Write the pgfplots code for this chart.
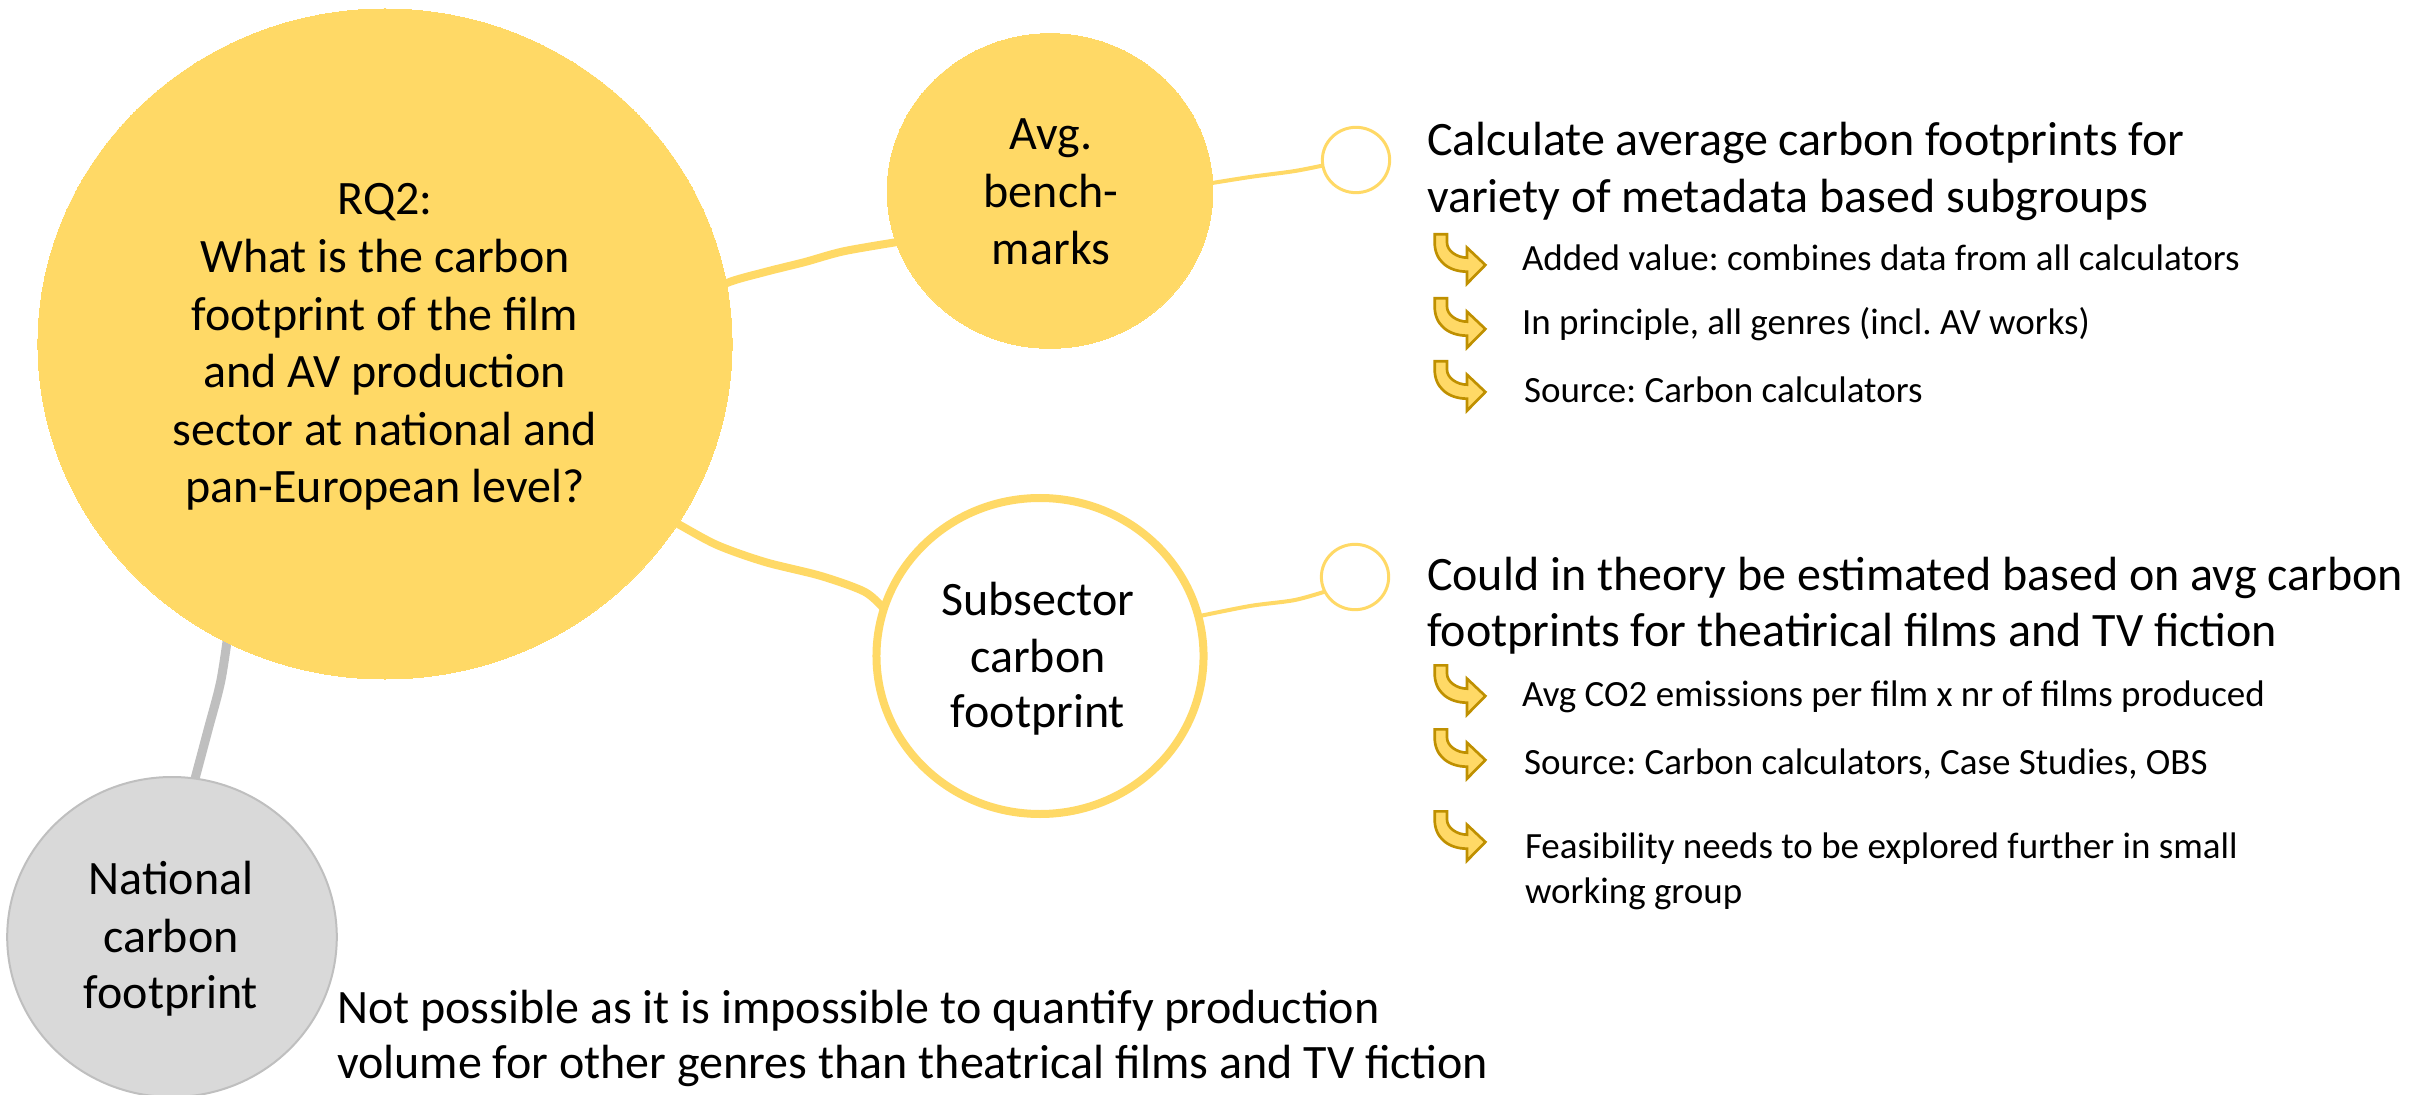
\documentclass[border=0pt]{standalone}
\usepackage{pgfplots}
\pgfplotsset{compat=1.18}
\usepackage{fontspec}
\setmainfont{Carlito}
\frenchspacing
\definecolor{yel}{RGB}{255,217,102}
\definecolor{yeldark}{RGB}{191,144,0}
\definecolor{greyfill}{RGB}{217,217,217}
\definecolor{greyline}{RGB}{191,191,191}
\newcommand\bigf{\fontsize{14.4}{17.4}\selectfont}
\newcommand\smf{\fontsize{11.1}{13}\selectfont}
\tikzset{bt/.style={inner sep=0pt, outer sep=0pt, font=\bigf, text=black},
         st/.style={inner sep=0pt, outer sep=0pt, font=\smf, text=black}}
\pgfdeclareplotmark{carrow}{%
 \pgfpathmoveto{\pgfpoint{-3.9pt}{7.4pt}}%
 \pgfpathlineto{\pgfpoint{-3.9pt}{4.9pt}}%
 \pgfpathcurveto{\pgfpoint{-3.9pt}{2.4pt}}{\pgfpoint{-0.9pt}{0.4pt}}{\pgfpoint{2.1pt}{0.4pt}}%
 \pgfpathlineto{\pgfpoint{2.1pt}{3.4pt}}%
 \pgfpathlineto{\pgfpoint{7.6pt}{-1.8pt}}%
 \pgfpathlineto{\pgfpoint{2.1pt}{-7.4pt}}%
 \pgfpathlineto{\pgfpoint{2.1pt}{-3.8pt}}%
 \pgfpathcurveto{\pgfpoint{-3.4pt}{-3.8pt}}{\pgfpoint{-7.6pt}{-0.6pt}}{\pgfpoint{-7.6pt}{4.9pt}}%
 \pgfpathlineto{\pgfpoint{-7.6pt}{7.4pt}}%
 \pgfpathclose
 \pgfusepathqfillstroke}
\begin{document}
\begin{tikzpicture}
\begin{axis}[
  width=729.9pt, height=328.5pt, scale only axis,
  xmin=0, xmax=2433, ymin=0, ymax=1095, y dir=reverse,
  hide axis, clip=true, clip marker paths=true,
]
% connectors
\addplot[no marks, smooth, color=yel, line width=2.4pt] coordinates {(700,300) (727,283) (765,272) (805,262) (845,251) (910,240)};
\addplot[no marks, smooth, color=yel, line width=2.4pt] coordinates {(660,515) (678,524) (717,545) (765,562) (821,576) (865,592) (885,610)};
\addplot[no marks, smooth, color=yel, line width=1.2pt] coordinates {(1200,185) (1250,177) (1295,171) (1330,164)};
\addplot[no marks, smooth, color=yel, line width=1.2pt] coordinates {(1195,617) (1250,606) (1295,600) (1330,590)};
\addplot[no marks, smooth, color=greyline, line width=2.7pt] coordinates {(230,620) (221,680) (208,730) (192,790)};
% circles
\addplot[color=yel, only marks, mark=*, mark size=100.5pt, mark options={fill=yel, draw=yel, line width=0pt, xscale=1.036}] coordinates {(385,344)};
\addplot[color=yel, only marks, mark=*, mark size=47.2pt, mark options={fill=yel, draw=yel, line width=0pt, xscale=1.035}] coordinates {(1050,191)};
\addplot[color=yel, only marks, mark=*, mark size=47.4pt, mark options={fill=white, draw=yel, line width=2.4pt, xscale=1.035}] coordinates {(1040,656)};
\addplot[color=greyline, only marks, mark=*, mark size=48pt, mark options={fill=greyfill, draw=greyline, line width=0.6pt, xscale=1.03}] coordinates {(172,937)};
\addplot[color=yel, only marks, mark=*, mark size=9.8pt, mark options={fill=white, draw=yel, line width=0.9pt, xscale=1.03}] coordinates {(1356,160) (1355,577)};
% bullet arrows
\addplot[color=yeldark, only marks, mark=carrow, mark options={fill=yel, draw=yeldark, line width=0.8pt}] coordinates {(1460,259) (1460,323) (1460,386) (1460,690) (1460,754) (1460,836)};
% circle texts
\node[bt, anchor=base] at (axis cs:385,215) {RQ2:};
\node[bt, anchor=base] at (axis cs:385,273) {What is the carbon};
\node[bt, anchor=base] at (axis cs:385,331) {footprint of the film};
\node[bt, anchor=base] at (axis cs:385,388) {and AV production};
\node[bt, anchor=base] at (axis cs:385,446) {sector at national and};
\node[bt, anchor=base] at (axis cs:385,503) {pan-European level?};
\node[bt, anchor=base] at (axis cs:1051,150) {Avg.};
\node[bt, anchor=base] at (axis cs:1051,208) {bench-};
\node[bt, anchor=base] at (axis cs:1051,265) {marks};
\node[bt, anchor=base] at (axis cs:1038,615) {Subsector};
\node[bt, anchor=base] at (axis cs:1038,672) {carbon};
\node[bt, anchor=base] at (axis cs:1038,727) {footprint};
\node[bt, anchor=base] at (axis cs:171,894) {National};
\node[bt, anchor=base] at (axis cs:171,952) {carbon};
\node[bt, anchor=base] at (axis cs:171,1008) {footprint};
% right texts group 1
\node[bt, anchor=base west] at (axis cs:1427,156) {Calculate average carbon footprints for};
\node[bt, anchor=base west] at (axis cs:1427,213) {variety of metadata based subgroups};
\node[st, anchor=base west] at (axis cs:1522,271) {Added value: combines data from all calculators};
\node[st, anchor=base west] at (axis cs:1522,335) {In principle, all genres (incl. AV works)};
\node[st, anchor=base west] at (axis cs:1524,403) {Source: Carbon calculators};
% right texts group 2
\node[bt, anchor=base west] at (axis cs:1427,590) {Could in theory be estimated based on avg carbon};
\node[bt, anchor=base west] at (axis cs:1427,647) {footprints for theatirical films and TV fiction};
\node[st, anchor=base west] at (axis cs:1522,706) {Avg CO2 emissions per film x nr of films produced};
\node[st, anchor=base west] at (axis cs:1524,774) {Source: Carbon calculators, Case Studies, OBS};
\node[st, anchor=base west] at (axis cs:1525,858) {Feasibility needs to be explored further in small};
\node[st, anchor=base west] at (axis cs:1525,903) {working group};
% bottom text
\node[bt, anchor=base west] at (axis cs:337,1023) {Not possible as it is impossible to quantify production};
\node[bt, anchor=base west] at (axis cs:337,1078) {volume for other genres than theatrical films and TV fiction};
\end{axis}
\pgfresetboundingbox
\path[use as bounding box] (current axis.south west) rectangle (current axis.north east);
\end{tikzpicture}
\end{document}
